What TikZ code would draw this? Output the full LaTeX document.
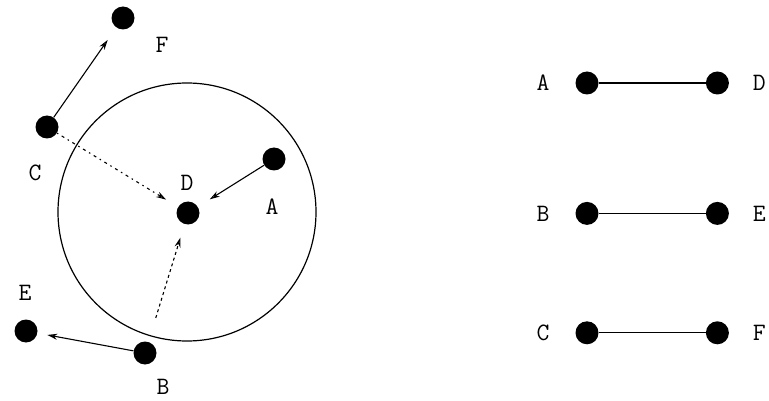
\documentclass[tikz,border=0pt]{standalone}
\usepackage{tikz}
\usetikzlibrary{positioning,arrows.meta}

\tikzset{
  dot/.style={circle, fill=black, inner sep=0pt, minimum size=23pt},
  lbl/.style={font=\ttfamily\fontsize{25}{27}\selectfont},
  move/.style={line width=1.1pt, -{Stealth[open, length=10pt, width=6pt]}},
}

\begin{document}
\begin{tikzpicture}[x=1pt, y=-1pt, every label/.style={lbl}]
    \useasboundingbox (0,0) rectangle (769,401);

    % left: positions and moves
    \draw[line width=1.2pt] (187,212) circle (129pt);
    \node[dot, label={[xshift=-1pt, yshift=30pt]center:D}] (D) at (188,213) {};
    \node[dot, label={[xshift=-2pt, yshift=-48pt]center:A}] (A) at (274,159) {};
    \node[dot, label={[xshift=-12pt, yshift=-46pt]center:C}] (C) at (47,127) {};
    \node[dot, label={[xshift=39pt, yshift=-27pt]center:F}] (F) at (123,18) {};
    \node[dot, label={[xshift=-1pt, yshift=38pt]center:E}] (E) at (26,331) {};
    \node[dot, label={[xshift=18pt, yshift=-34pt]center:B}] (B) at (145,353) {};

    \draw[move, shorten >=15pt] (C) -- (F);
    \draw[move, shorten >=14pt, dash pattern=on 1.5pt off 4pt on 3pt off 4pt] (C) -- (D);
    \draw[move, shorten >=14pt] (A) -- (D);
    \draw[move, shorten <=25pt, shorten >=14pt, dash pattern=on 3pt off 3pt] (B) -- (D);
    \draw[move, shorten >=10pt] (B) -- (E);

    % right: pairs
    \node[dot, label={[xshift=-44pt]center:A}] (A2) at (587,83) {};
    \node[dot, right=107pt of A2, label={[xshift=42pt]center:D}] (D2) {};
    \node[dot, below=107pt of A2, label={[xshift=-44pt]center:B}] (B2) {};
    \node[dot, right=107pt of B2, label={[xshift=42pt]center:E}] (E2) {};
    \node[dot, below=96pt of B2, label={[xshift=-44pt]center:C}] (C2) {};
    \node[dot, right=107pt of C2, label={[xshift=42pt]center:F}] (F2) {};

    \draw[line width=1.2pt] (A2) -- (D2);
    \draw[line width=1.2pt] (B2) -- (E2);
    \draw[line width=1.2pt] (C2) -- (F2);
\end{tikzpicture}
\end{document}
